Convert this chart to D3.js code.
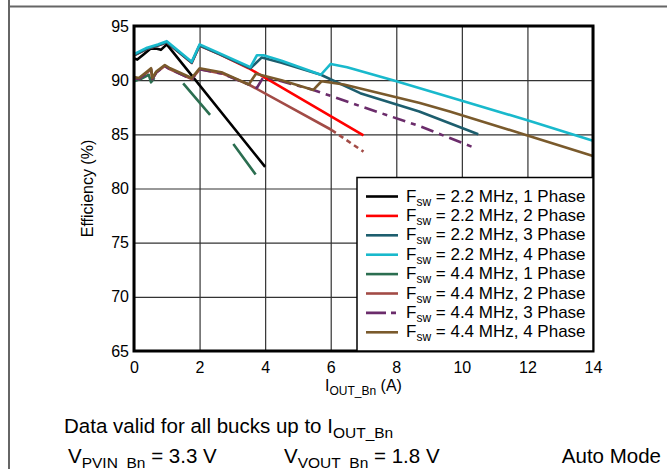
<!DOCTYPE html>
<meta charset="utf-8">
<style>
body { margin: 0; background: #fff; }
svg { font-family: Arial, "Liberation Sans", sans-serif; }
.grid line { stroke: #333; stroke-width: 1.2; }
.grid path { display: none; }
.tick text { font-size: 16px; fill: #000; }
.curve { fill: none; stroke-width: 2.6; stroke-linejoin: round; }
</style>
<body>
<svg width="667" height="469"></svg>
<script src="https://d3js.org/d3.v7.min.js"></script>
<script>
// axis ticks
var xTicks = [0, 2, 4, 6, 8, 10, 12, 14];
var yTicks = [65, 70, 75, 80, 85, 90, 95];

// [I_OUT (A), efficiency (%)]; null = gap in the trace
var fsw22p1 = [[0,92.0],[0.1,91.9],[0.3,92.4],[0.5,92.9],[0.7,92.9],[0.82,92.8],[1.0,93.3],[4.0,82.0]];
var fsw22p2 = [[0,92.3],[0.4,92.9],[0.73,93.2],[1.0,93.5],[1.76,91.6],[2.0,93.2],[2.6,92.4],[3.5,91.1],[7.0,84.9]];
var fsw22p3 = [[0,92.3],[0.4,92.9],[0.73,93.2],[1.0,93.5],[1.76,91.6],[2.0,93.2],[2.6,92.4],[3.55,91.1],[3.9,92.1],[4.5,91.6],[5.7,90.5],[6.9,88.8],[8.7,87.1],[10.5,85.0]];
var fsw22p4 = [[0,92.4],[0.4,93.0],[0.73,93.3],[1.0,93.6],[1.76,91.7],[2.0,93.3],[2.6,92.5],[3.55,91.2],[3.75,92.3],[3.95,92.3],[4.5,91.8],[5.7,90.5],[6.0,91.5],[6.5,91.2],[7.9,90.0],[10,88.1],[12,86.3],[14,84.4]];
var fsw44p1 = [[0,89.9],[0.2,90.1],[0.45,90.5],[0.52,89.8],[0.62,90.2],null,[1.5,89.7],[2.32,86.8],null,[3.03,84.1],[3.71,81.3]];
var fsw44p2 = [[0,90.2],[0.15,90.1],[0.4,90.7],[0.52,91.0],[0.56,90.1],[0.68,90.7],[0.94,91.3],[1.1,91.0],[1.76,90.1],[2.0,91.0],[2.7,90.6],[3.5,89.6],[6.03,85.4]];
var fsw44p2Tail = [[6.03,85.4],[7.0,83.4]];
var fsw44p3 = [[0,90.2],[0.15,90.1],[0.4,90.7],[0.52,91.0],[0.56,90.1],[0.68,90.7],[0.94,91.3],[1.1,91.0],[1.76,90.1],[2.0,91.0],[2.7,90.6],[3.5,89.6],[3.75,89.3],[3.95,90.3],[4.5,89.9],[5.47,89.1],[7.0,87.5],[8.72,85.75],[10.35,83.8]];
var fsw44p4 = [[0,90.3],[0.15,90.2],[0.4,90.8],[0.52,91.1],[0.56,90.2],[0.68,90.8],[0.94,91.4],[1.1,91.1],[1.76,90.2],[2.0,91.1],[2.7,90.7],[3.5,89.6],[3.72,90.6],[4.5,90.0],[5.47,89.1],[5.72,89.9],[6.4,89.6],[8.72,87.9],[9.63,87.1],[12,84.9],[14,83.0]];

var legendFreq = ["2.2", "2.2", "2.2", "2.2", "4.4", "4.4", "4.4", "4.4"];
var legendPhase = [1, 2, 3, 4, 1, 2, 3, 4];
var colors = ["#000000", "#ff0000", "#1d5e6e", "#19b9cc", "#2b6e50", "#a24b46", "#6b2c6b", "#7a5a2c"];

var series = [
  {data: fsw22p1, color: colors[0]},
  {data: fsw22p2, color: colors[1]},
  {data: fsw22p3, color: colors[2]},
  {data: fsw44p1, color: colors[4]},
  {data: fsw44p2, color: colors[5]},
  {data: fsw44p2Tail, color: colors[5], dash: "5,4"},
  {data: fsw44p3, color: colors[6], dash: "13,6,5,6"},
  {data: fsw44p4, color: colors[7]},
  {data: fsw22p4, color: colors[3]}
];

var svg = d3.select("svg");
var pLeft = 134, pRight = 593, pTop = 26, pBottom = 351;

var x = d3.scaleLinear().domain([0, 14]).range([pLeft, pRight]);
var y = d3.scaleLinear().domain([65, 95]).range([pBottom, pTop]);

// outer frame
svg.append("line").attr("x1", 9).attr("x2", 9).attr("y1", 0).attr("y2", 469)
  .attr("stroke", "#666").attr("stroke-width", 2);
svg.append("line").attr("x1", 9).attr("x2", 667).attr("y1", 6.5).attr("y2", 6.5)
  .attr("stroke", "#666").attr("stroke-width", 2);

// grid
svg.append("g").attr("class", "grid")
  .attr("transform", "translate(0," + pBottom + ")")
  .call(d3.axisBottom(x).tickValues(xTicks).tickSize(-(pBottom - pTop)).tickFormat(""));
svg.append("g").attr("class", "grid")
  .attr("transform", "translate(" + pLeft + ",0)")
  .call(d3.axisLeft(y).tickValues(yTicks).tickSize(-(pRight - pLeft)).tickFormat(""));

// tick labels
svg.append("g").attr("transform", "translate(0," + pBottom + ")")
  .call(d3.axisBottom(x).tickValues(xTicks).tickSize(0).tickPadding(11))
  .call(function(g) { g.select(".domain").remove(); });
svg.append("g").attr("transform", "translate(" + pLeft + ",0)")
  .call(d3.axisLeft(y).tickValues(yTicks).tickSize(0).tickPadding(5))
  .call(function(g) { g.select(".domain").remove(); });

// curves
var line = d3.line()
  .defined(function(d) { return d; })
  .x(function(d) { return x(d[0]); })
  .y(function(d) { return y(d[1]); });

svg.selectAll(".curve")
  .data(series)
  .enter().append("path")
    .attr("class", "curve")
    .attr("d", function(d) { return line(d.data); })
    .attr("stroke", function(d) { return d.color; })
    .attr("stroke-dasharray", function(d) { return d.dash || null; });

// plot border
svg.append("rect")
  .attr("x", pLeft).attr("y", pTop)
  .attr("width", pRight - pLeft).attr("height", pBottom - pTop)
  .attr("fill", "none").attr("stroke", "#000").attr("stroke-width", 3);

// legend
var lg = svg.append("g");
lg.append("rect")
  .attr("x", 357).attr("y", 177.5)
  .attr("width", pRight - 357).attr("height", pBottom - 177.5)
  .attr("fill", "#fff").attr("stroke", "#000").attr("stroke-width", 1.5);

var rows = lg.selectAll(".row")
  .data(d3.range(8))
  .enter().append("g")
    .attr("transform", function(i) { return "translate(0," + (196.5 + i * 19.4) + ")"; });

rows.append("line")
  .attr("x1", 366).attr("x2", 398)
  .attr("stroke", function(i) { return colors[i]; })
  .attr("stroke-width", 2.6)
  .attr("stroke-dasharray", function(i) { return i == 6 ? "20,5,5,5" : null; });

var rt = rows.append("text")
  .attr("x", 406).attr("y", 5)
  .style("font-size", "17px");
rt.append("tspan").text("F");
rt.append("tspan").attr("dy", 4).style("font-size", "12px").text("sw");
rt.append("tspan").attr("dy", -4)
  .text(function(i) { return " = " + legendFreq[i] + " MHz, " + legendPhase[i] + " Phase"; });

// axis titles
svg.append("text")
  .attr("transform", "translate(93," + ((pTop + pBottom) / 2) + ") rotate(-90)")
  .attr("text-anchor", "middle")
  .style("font-size", "16px")
  .text("Efficiency (%)");

var xt = svg.append("text")
  .attr("x", (pLeft + pRight) / 2).attr("y", 391)
  .attr("text-anchor", "middle")
  .style("font-size", "16px");
xt.append("tspan").text("I");
xt.append("tspan").attr("dy", 4).style("font-size", "12px").text("OUT_Bn");
xt.append("tspan").attr("dy", -4).text(" (A)");

// notes under the chart
var n1 = svg.append("text").attr("x", 64).attr("y", 433).style("font-size", "20.5px");
n1.append("tspan").text("Data valid for all bucks up to I");
n1.append("tspan").attr("dy", 5).style("font-size", "15.5px").text("OUT_Bn");

var n2 = svg.append("text").attr("x", 68).attr("y", 463).style("font-size", "20.5px");
n2.append("tspan").text("V");
n2.append("tspan").attr("dy", 5).style("font-size", "15.5px").text("PVIN_Bn");
n2.append("tspan").attr("dy", -5).text(" = 3.3 V");

var n3 = svg.append("text").attr("x", 284).attr("y", 463).style("font-size", "20.5px");
n3.append("tspan").text("V");
n3.append("tspan").attr("dy", 5).style("font-size", "15.5px").text("VOUT_Bn");
n3.append("tspan").attr("dy", -5).text(" = 1.8 V");

svg.append("text").attr("x", 661).attr("y", 463)
  .attr("text-anchor", "end").style("font-size", "20.5px").text("Auto Mode");
</script>
</body>
